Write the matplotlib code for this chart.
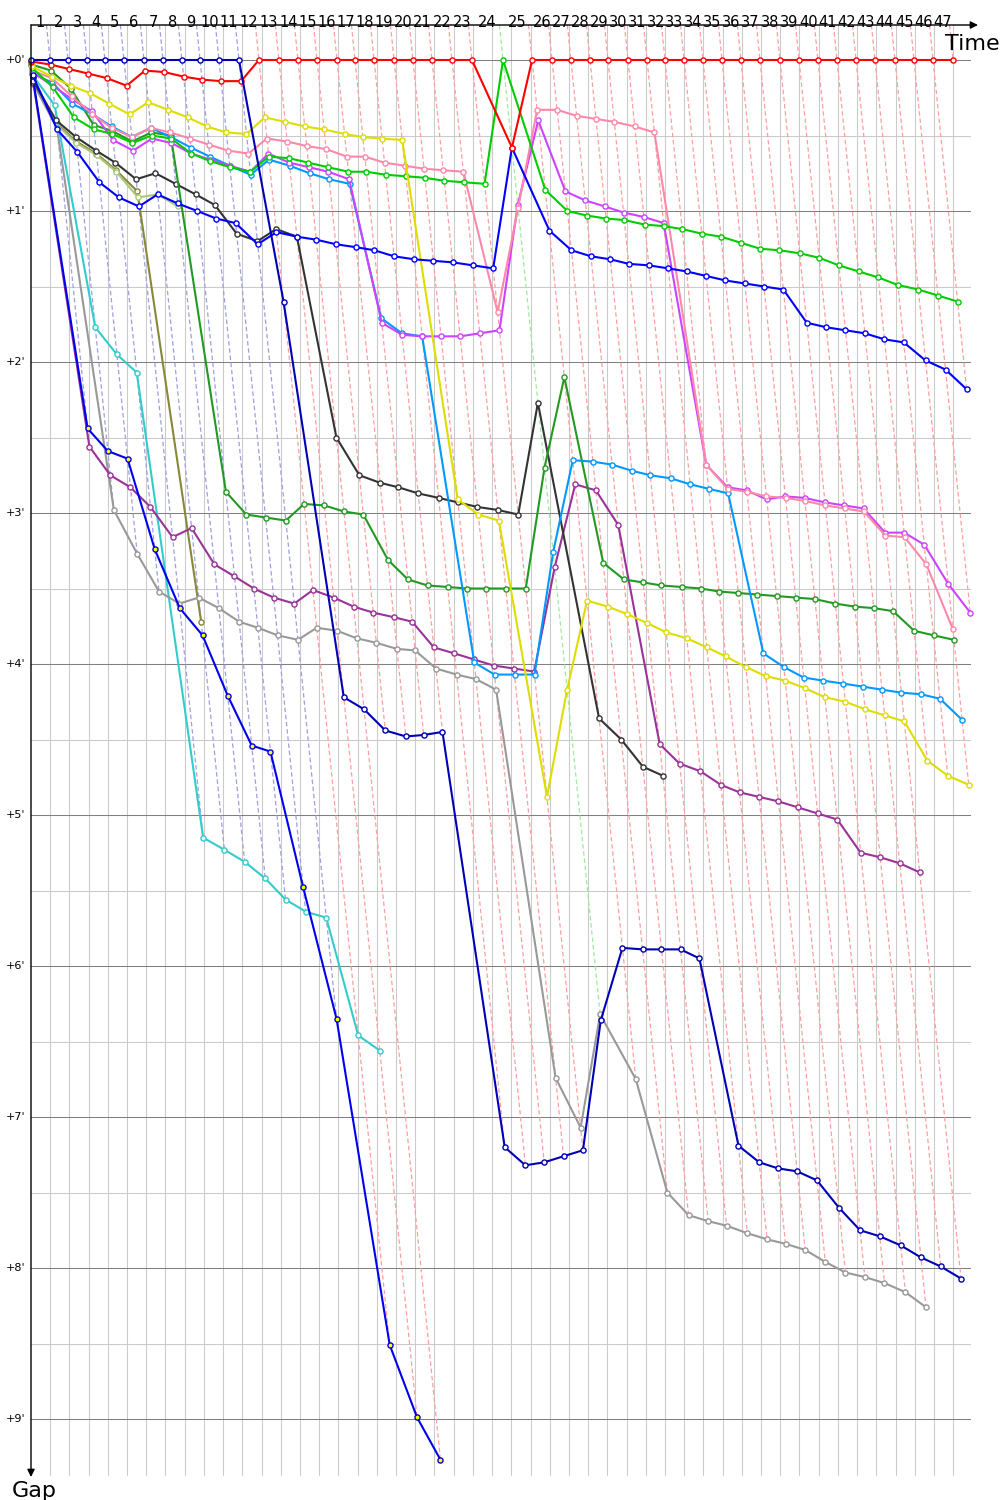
import matplotlib
matplotlib.use('Agg')
import matplotlib.pyplot as plt
import matplotlib.transforms as mtransforms
from matplotlib.colors import to_rgb

plt.rcParams['font.family'] = ['DejaVu Sans']
plt.rcParams['lines.scale_dashes'] = False

# ---------------- data ----------------
# cumulative race time of the leader at the end of each lap (minutes), lap 0..47
leader_time = [0.00, 1.24, 2.41, 3.64, 4.81, 6.05, 7.35, 8.59, 9.82, 11.00,
               12.23, 13.53, 14.83, 16.13, 17.37, 18.61, 19.91, 21.08, 22.32, 23.62,
               24.85, 26.09, 27.39, 28.69, 30.71, 32.60, 33.90, 35.13, 36.37, 37.54,
               38.84, 40.08, 41.25, 42.49, 43.72, 44.96, 46.19, 47.43, 48.73, 49.97,
               51.20, 52.44, 53.68, 54.91, 56.21, 57.45, 58.69, 59.99]

# gap to the leader (minutes) at the end of each lap, starting with lap 0
gap_red = [0.01, 0.03, 0.06, 0.09, 0.12, 0.17, 0.07, 0.08, 0.11, 0.13, 0.14, 0.14,
           0, 0, 0, 0, 0, 0, 0, 0, 0, 0, 0, 0, 0.58,
           0, 0, 0, 0, 0, 0, 0, 0, 0, 0, 0, 0, 0, 0, 0, 0, 0, 0, 0, 0, 0, 0, 0]
gap_navy = [0, 0, 0, 0, 0, 0, 0, 0, 0, 0, 0, 0,
            1.60, 4.22, 4.30, 4.44, 4.48, 4.47, 4.45, 7.20, 7.32, 7.30, 7.26, 7.22,
            6.36, 5.88, 5.89, 5.89, 5.89, 5.95, 7.19, 7.30, 7.34, 7.36, 7.42, 7.60,
            7.75, 7.79, 7.85, 7.93, 7.99, 8.07]
gap_blue = [0.10, 0.46, 0.61, 0.81, 0.91, 0.97, 0.89, 0.95, 1.00, 1.05, 1.08, 1.22,
            1.14, 1.17, 1.19, 1.22, 1.24, 1.26, 1.30, 1.32, 1.33, 1.34, 1.36, 1.38,
            0.58, 1.13, 1.26, 1.30, 1.32, 1.35, 1.36, 1.38, 1.40, 1.43, 1.46, 1.48,
            1.50, 1.52, 1.74, 1.77, 1.79, 1.81, 1.85, 1.87, 1.99, 2.05, 2.18]
gap_blue_y = [0.11, 2.44, 2.59, 2.64, 3.24, 3.63, 3.81, 4.21, 4.54, 4.58, 5.48, 6.35,
              8.51, 8.99, 9.27]
gap_yellow = [0.04, 0.11, 0.17, 0.22, 0.29, 0.36, 0.28, 0.33, 0.38, 0.44, 0.48, 0.49,
              0.38, 0.41, 0.44, 0.46, 0.49, 0.51, 0.52, 0.53, 2.91, 3.01, 3.05, 4.88,
              4.17, 3.58, 3.62, 3.67, 3.73, 3.79, 3.83, 3.89, 3.95, 4.02, 4.08, 4.11,
              4.16, 4.22, 4.25, 4.30, 4.34, 4.38, 4.64, 4.74, 4.80]
gap_lime = [0.05, 0.18, 0.38, 0.46, 0.49, 0.55, 0.50, 0.52, 0.62, 0.67, 0.71, 0.74,
            0.64, 0.65, 0.68, 0.71, 0.74, 0.74, 0.76, 0.77, 0.78, 0.80, 0.81, 0.82,
            0, 0.86, 1.00, 1.03, 1.05, 1.06, 1.09, 1.10, 1.12, 1.15, 1.17, 1.21,
            1.25, 1.26, 1.28, 1.31, 1.36, 1.40, 1.44, 1.49, 1.52, 1.56, 1.60]
gap_forest = [0.03, 0.07, 0.19, 0.43, 0.47, 0.54, 0.48, 0.50, 2.86, 3.01, 3.03, 3.05,
              2.94, 2.95, 2.99, 3.01, 3.31, 3.44, 3.48, 3.49, 3.50, 3.50, 3.50, 3.50,
              2.70, 2.10, 3.33, 3.44, 3.46, 3.48, 3.49, 3.50, 3.52, 3.53, 3.54, 3.55,
              3.56, 3.57, 3.60, 3.62, 3.63, 3.65, 3.78, 3.81, 3.84]
gap_pink = [0.07, 0.12, 0.24, 0.36, 0.45, 0.51, 0.45, 0.48, 0.52, 0.56, 0.60, 0.62,
            0.52, 0.54, 0.57, 0.59, 0.64, 0.64, 0.68, 0.70, 0.72, 0.73, 0.74, 1.67,
            0.98, 0.33, 0.33, 0.37, 0.39, 0.41, 0.44, 0.48, 2.68, 2.84, 2.86, 2.89,
            2.90, 2.92, 2.95, 2.97, 2.99, 3.15, 3.16, 3.34, 3.77]
gap_violet = [0.08, 0.17, 0.26, 0.34, 0.53, 0.60, 0.52, 0.55, 0.62, 0.66, 0.70, 0.74,
              0.62, 0.68, 0.71, 0.74, 0.79, 1.74, 1.82, 1.83, 1.83, 1.83, 1.81, 1.79,
              0.96, 0.40, 0.87, 0.93, 0.97, 1.01, 1.04, 1.08, 2.68, 2.83, 2.85, 2.91,
              2.89, 2.90, 2.93, 2.95, 2.97, 3.13, 3.13, 3.21, 3.47, 3.66]
gap_sky = [0.09, 0.15, 0.29, 0.36, 0.44, 0.51, 0.45, 0.51, 0.58, 0.64, 0.70, 0.76,
           0.66, 0.70, 0.75, 0.79, 0.82, 1.71, 1.81, 1.83, 3.99, 4.07, 4.07, 4.07,
           3.26, 2.65, 2.66, 2.68, 2.72, 2.75, 2.77, 2.81, 2.84, 2.87, 3.93, 4.02,
           4.09, 4.11, 4.13, 4.15, 4.17, 4.19, 4.20, 4.23, 4.37]
gap_black = [0.14, 0.40, 0.51, 0.60, 0.68, 0.79, 0.75, 0.82, 0.89, 0.96, 1.15, 1.20,
             1.12, 1.17, 2.50, 2.75, 2.80, 2.83, 2.87, 2.90, 2.93, 2.96, 2.98, 3.01,
             2.27, 4.36, 4.50, 4.68, 4.74]
gap_purple = [0.15, 2.56, 2.75, 2.83, 2.96, 3.16, 3.10, 3.34, 3.42, 3.50, 3.56, 3.60,
              3.51, 3.56, 3.62, 3.66, 3.69, 3.72, 3.89, 3.93, 3.97, 4.01, 4.03, 4.05,
              3.36, 2.81, 2.85, 3.08, 4.53, 4.66, 4.71, 4.80, 4.85, 4.88, 4.91, 4.95,
              4.99, 5.03, 5.25, 5.28, 5.32, 5.38]
gap_gray = [0.16, 0.45, 2.98, 3.27, 3.52, 3.60, 3.56, 3.63, 3.72, 3.76, 3.81, 3.84,
            3.76, 3.78, 3.83, 3.86, 3.90, 3.91, 4.03, 4.07, 4.10, 4.17, 6.74, 7.07,
            6.32, 6.75, 7.50, 7.65, 7.69, 7.72, 7.77, 7.81, 7.84, 7.88, 7.96, 8.03,
            8.06, 8.10, 8.16, 8.26]
gap_cyan = [0.10, 0.30, 1.77, 1.95, 2.07, 5.15, 5.23, 5.31, 5.42, 5.56, 5.64, 5.68,
            6.46, 6.56]
gap_olive = [0.12, 0.42, 0.54, 0.62, 0.73, 0.87, 3.72]
gap_khaki = [0.13, 0.43, 0.55, 0.63, 0.74, 0.91, 0.89, 0.97]

# styles: (gaps, line colour, marker face)
drivers = [
    (gap_olive, '#88883A', 'white'),
    (gap_khaki, '#A8C878', 'white'),
    (gap_cyan, '#33CCCC', 'white'),
    (gap_gray, '#999999', 'white'),
    (gap_purple, '#993399', 'white'),
    (gap_blue_y, '#0000EE', '#FFFF00'),
    (gap_black, '#333333', 'white'),
    (gap_forest, '#229922', 'white'),
    (gap_sky, '#0099FF', 'white'),
    (gap_violet, '#CC44FF', 'white'),
    (gap_pink, '#FF88AA', 'white'),
    (gap_lime, '#00CC00', 'white'),
    (gap_yellow, '#DDDD00', 'white'),
    (gap_blue, '#0000FF', 'white'),
    (gap_red, '#FF0000', 'white'),
    (gap_navy, '#0000B4', 'white'),
]

# ---------------- layout ----------------
W, H = 1000, 1500
SX, SY = 15.37, 151.0          # px per minute (x, y)
X0, Y0 = 31, 60                # pixel of time 0 / gap 0
LEFT, RIGHT, TOP, BOTTOM = 31, 978, 25, 1477

fig = plt.figure(figsize=(W / 100, H / 100), dpi=100)
ax = fig.add_axes([LEFT / W, 1 - BOTTOM / H, (RIGHT - LEFT) / W, (BOTTOM - TOP) / H])
xmax = (RIGHT - X0) / SX
ytop = (TOP - Y0) / SY
ybot = (BOTTOM - Y0) / SY
ax.set_xlim(0, xmax)
ax.set_ylim(ybot, ytop)
ax.axis('off')

# grid
grid_light = '#CBCBCB'
xg_end = (970 - X0) / SX
k = 1
while k * 1.25 <= 60.01:
    ax.plot([k * 1.25, k * 1.25], [ytop, (1475 - Y0) / SY], color=grid_light, lw=0.75, zorder=0)
    k += 1
for m in range(0, 10):
    ax.plot([0, xg_end], [m, m], color='#808080', lw=0.75, zorder=0.2)
    if m + 0.5 < ybot:
        ax.plot([0, xg_end], [m + 0.5, m + 0.5], color=grid_light, lw=0.75, zorder=0.1)

# dashed "same lap" lines
def lighten(c, f=0.62):
    r, g, b = to_rgb(c)
    return (r + (1 - r) * f, g + (1 - g) * f, b + (1 - b) * f)

for n in range(1, len(leader_time)):
    entries = [(gaps[n], col) for gaps, col, _ in drivers if len(gaps) > n]
    gmax = max(e[0] for e in entries)
    lead_col = min(entries, key=lambda e: e[0])[1]
    t = leader_time[n]
    ax.plot([t + ytop, t + gmax], [ytop, gmax], color=lighten(lead_col),
            lw=0.9, dashes=(3.2, 2.0), zorder=1)

# driver lines
for gaps, col, face in drivers:
    xs = [leader_time[i] + g for i, g in enumerate(gaps)]
    ax.plot(xs, gaps, '-o', color=col, lw=1.5, ms=3.7, mfc=face, mec=col,
            mew=1.0, zorder=3, clip_on=False)

# axes arrows
ax.annotate('', xy=(1, 1), xytext=(0, 1), xycoords='axes fraction',
            arrowprops=dict(arrowstyle='-|>', color='black', lw=1.0,
                            mutation_scale=11, shrinkA=0, shrinkB=0), zorder=5)
ax.annotate('', xy=(0, 0), xytext=(0, 1), xycoords='axes fraction',
            arrowprops=dict(arrowstyle='-|>', color='black', lw=1.0,
                            mutation_scale=11, shrinkA=0, shrinkB=0), zorder=5)

# lap numbers
trans = mtransforms.blended_transform_factory(ax.transData, ax.transAxes)
trans = mtransforms.offset_copy(trans, fig=fig, x=0, y=-2, units='dots')
for n in range(1, len(leader_time)):
    mid = 0.5 * (leader_time[n - 1] + leader_time[n])
    ax.text(mid, 1.0, str(n), transform=trans, ha='center', va='baseline',
            fontsize=10.5, color='black', zorder=6)

# gap labels
tr_y = mtransforms.blended_transform_factory(fig.transFigure, ax.transData)
for m in range(0, 10):
    ax.text(25 / W, m, "+%d'" % m, transform=tr_y, ha='right', va='center',
            fontsize=8, color='black')

fig.text(945 / W, 1 - 50 / H, 'Time', ha='left', va='baseline', fontsize=16)
fig.text(12 / W, 1 - 1497 / H, 'Gap', ha='left', va='baseline', fontsize=16)

fig.savefig('out.png', dpi=100, facecolor='white')
